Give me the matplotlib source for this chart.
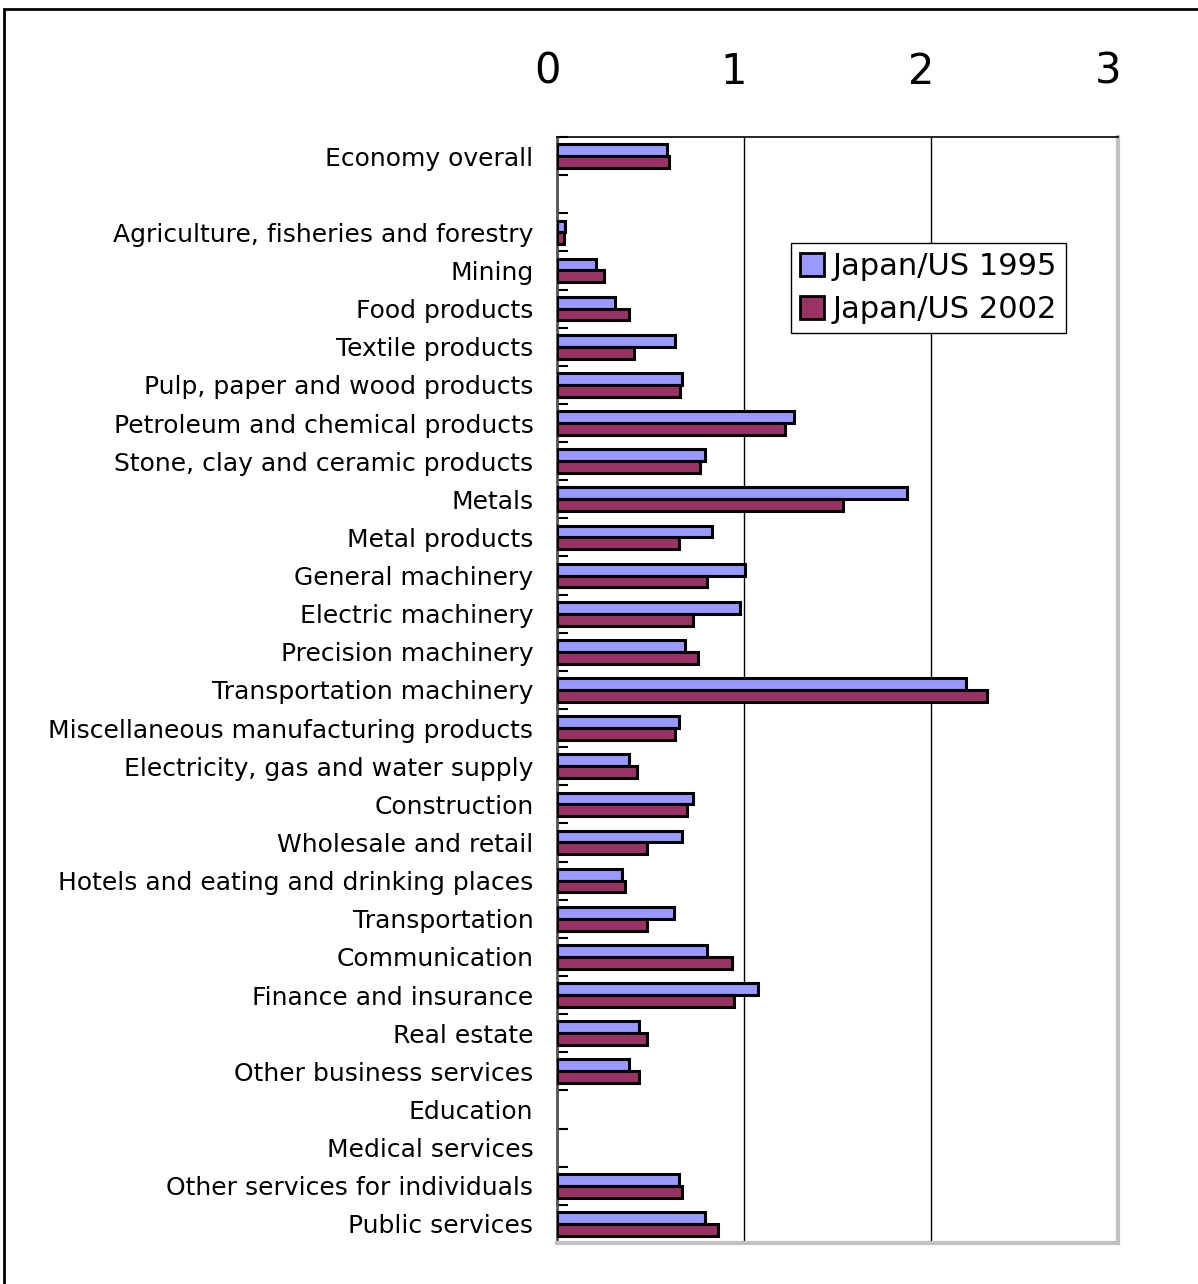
import numpy as np
import matplotlib.pyplot as plt
from matplotlib.patches import Rectangle
from matplotlib.transforms import ScaledTranslation

# Japan/US price ratios by industry
categories = [
    "Economy overall", "",
    "Agriculture, fisheries and forestry", "Mining", "Food products",
    "Textile products", "Pulp, paper and wood products",
    "Petroleum and chemical products", "Stone, clay and ceramic products",
    "Metals", "Metal products", "General machinery", "Electric machinery",
    "Precision machinery", "Transportation machinery",
    "Miscellaneous manufacturing products", "Electricity, gas and water supply",
    "Construction", "Wholesale and retail", "Hotels and eating and drinking places",
    "Transportation", "Communication", "Finance and insurance", "Real estate",
    "Other business services", "Education", "Medical services",
    "Other services for individuals", "Public services",
]
ratio_1995 = [0.59, np.nan, 0.045, 0.21, 0.31, 0.63, 0.67, 1.27, 0.79, 1.87,
              0.83, 1.005, 0.98, 0.685, 2.19, 0.65, 0.385, 0.73, 0.67, 0.35,
              0.625, 0.80, 1.075, 0.44, 0.385, np.nan, np.nan, 0.65, 0.79]
ratio_2002 = [0.60, np.nan, 0.035, 0.25, 0.385, 0.41, 0.66, 1.22, 0.765, 1.53,
              0.65, 0.80, 0.73, 0.755, 2.30, 0.63, 0.43, 0.695, 0.48, 0.365,
              0.48, 0.935, 0.945, 0.48, 0.44, np.nan, np.nan, 0.67, 0.86]
xticks = [0, 1, 2, 3]

fig = plt.figure(figsize=(11.98, 12.84), dpi=100)
ax = fig.add_axes([0.465, 0.032, 0.468, 0.8613])

n = len(categories)
y = np.arange(n)
h = 0.31
v95 = np.array(ratio_1995)
v02 = np.array(ratio_2002)
m95 = ~np.isnan(v95)
m02 = ~np.isnan(v02)
ax.barh(y[m95] - h / 2, v95[m95], height=h, color="#9999FF",
        edgecolor="black", linewidth=2.2, label="Japan/US 1995", zorder=3)
ax.barh(y[m02] + h / 2, v02[m02], height=h, color="#993366",
        edgecolor="black", linewidth=2.2, label="Japan/US 2002", zorder=3)

ax.set_ylim(n - 0.5, -0.5)
ax.set_xlim(0, 3)
ax.set_yticks(y)
ax.set_yticklabels(categories, fontsize=18)
ax.tick_params(axis="y", which="major", length=0, pad=17)
ax.set_yticks(np.arange(n + 1) - 0.5, minor=True)
ax.tick_params(axis="y", which="minor", direction="in", length=8, width=1.5, color="black")

ax.xaxis.tick_top()
ax.set_xticks(xticks)
ax.set_xticklabels([str(t) for t in xticks], fontsize=30)
ax.tick_params(axis="x", length=0, pad=32)
shift = ScaledTranslation(-10 / 100, 0, fig.dpi_scale_trans)
for lab in ax.get_xticklabels():
    lab.set_transform(lab.get_transform() + shift)
ax.grid(axis="x", color="black", linewidth=1, zorder=0)

ax.spines["top"].set_color("black")
ax.spines["top"].set_linewidth(1.2)
ax.spines["left"].set_color("#555555")
ax.spines["left"].set_linewidth(2)
ax.spines["right"].set_color("#c0c0c0")
ax.spines["right"].set_linewidth(3)
ax.spines["bottom"].set_color("#c0c0c0")
ax.spines["bottom"].set_linewidth(3)

leg = ax.legend(loc="upper left", bbox_to_anchor=(0.417, 0.904), fontsize=22,
                frameon=True, fancybox=False, edgecolor="black", borderaxespad=0,
                handlelength=0.8, handleheight=0.8, handletextpad=0.25,
                borderpad=0.3, labelspacing=0.45, framealpha=1)
leg.get_frame().set_linewidth(1)
for p in leg.get_patches():
    p.set_linewidth(2)

# outer chart frame
fig.patches.append(Rectangle((0.0035, -0.01), 1.1, 1.0065 - 0.0035, transform=fig.transFigure,
                             fill=False, edgecolor="black", linewidth=2))

fig.savefig("out.png", dpi=100)
